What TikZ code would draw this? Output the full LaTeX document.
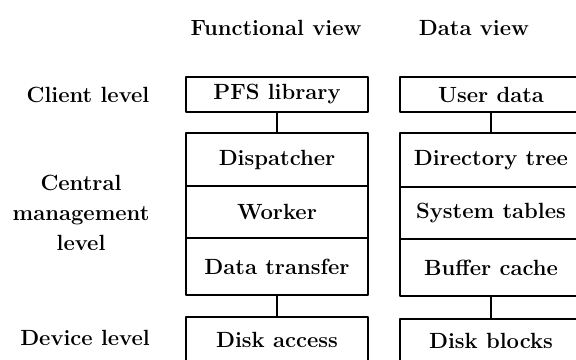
\documentclass[tikz,border=0pt]{standalone}
\usetikzlibrary{positioning}
\begin{document}
\begin{tikzpicture}[x=0.5pt,y=-0.5pt,line join=round,line cap=round,
    font=\fontsize{11}{15}\bfseries,
    cell/.style={draw,line width=1pt,minimum width=90.7pt,inner sep=0pt,outer sep=0pt},
    lvl/.style={align=center}]
\useasboundingbox (0,0) rectangle (576,359);
\clip (0,0) rectangle (576,359);
% column headings
\node (fhead) at (276,28) {Functional view};
\node (dhead) at (474,28) {Data view};
% levels
\node[lvl] (client) at (88,95) {Client level};
\node[lvl] (central) at (81,213) {Central\\management\\level};
\node[lvl] (device) at (85,338) {Device level};
% functional view
\node[cell,minimum height=17.5pt] (pfs) at (277,94.5) {PFS library};
\node[cell,minimum height=26.5pt] (disp) at (277,159.5) {Dispatcher};
\node[cell,minimum height=26pt,below=0pt of disp] (worker) {Worker};
\node[cell,minimum height=28.5pt,below=0pt of worker] (xfer) {Data transfer};
\node[cell,minimum height=22.5pt] (disk) at (277,339.5) {Disk access};
\draw[line width=1pt] (pfs.south) -- (disp.north);
\draw[line width=1pt] (xfer.south) -- (disk.north);
% data view
\node[cell,minimum height=17.5pt] (udata) at (491,94.5) {User data};
\node[cell,minimum height=27pt] (dirtree) at (491,160) {Directory tree};
\node[cell,minimum height=26pt,below=0pt of dirtree] (systab) {System tables};
\node[cell,minimum height=28.5pt,below=0pt of systab] (bcache) {Buffer cache};
\node[cell,minimum height=21.5pt] (dblocks) at (491,340.5) {Disk blocks};
\draw[line width=1pt] (udata.south) -- (dirtree.north);
\draw[line width=1pt] (bcache.south) -- (dblocks.north);
\end{tikzpicture}
\end{document}
